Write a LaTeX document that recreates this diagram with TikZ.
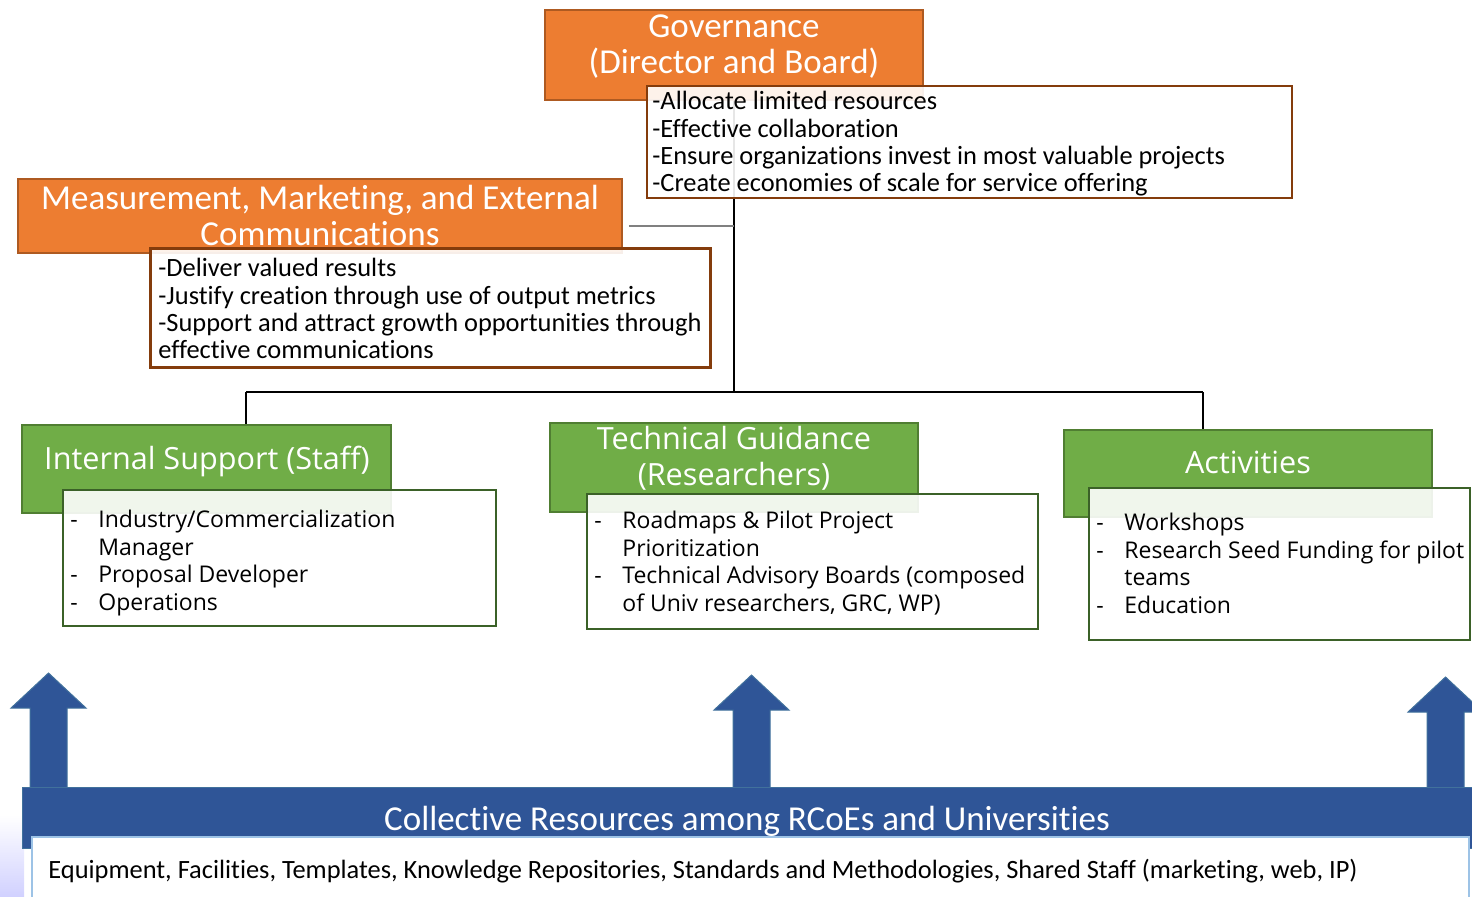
\documentclass[tikz,border=0pt]{standalone}
\usepackage{fontspec}
\setmainfont{Carlito}[Ligatures=NoCommon]
\newfontfamily\segoe{Open Sans}
\definecolor{orangefill}{HTML}{ED7D31}
\definecolor{orangeline}{HTML}{AE5A21}
\definecolor{brownline}{HTML}{843C0C}
\definecolor{greenfill}{HTML}{70AD47}
\definecolor{greenline}{HTML}{507E32}
\definecolor{darkgreen}{HTML}{3B6128}
\definecolor{bandblue}{HTML}{2F5597}
\definecolor{bandline}{HTML}{41719C}
\definecolor{paleblue}{HTML}{9DC3E6}
\newcommand{\itemdash}{\makebox[14pt][l]{-}}
\newcommand{\itemgap}{\hspace*{14pt}}
\begin{document}
\begin{tikzpicture}[x=0.5pt,y=-0.5pt,
  orangebox/.style={draw=orangeline,fill=orangefill,line width=0.75pt,inner sep=0pt},
  greenbox/.style={draw=greenline,fill=greenfill,line width=0.75pt,inner sep=0pt},
  listbox/.style={fill=white,fill opacity=0.9,line width=0.75pt,inner sep=0pt},
  titletext/.style={text=white,inner sep=0pt,align=center},
  listtext/.style={anchor=north west,inner sep=0pt,align=left}]
  \useasboundingbox (0,0) rectangle (1472,896);
  \shade[top color=white,bottom color=blue!18!white] (0,815) rectangle (24,896);
  \node[orangebox,minimum width=189pt,minimum height=45pt] (gov) at (734,55) {};
  \node[orangebox,minimum width=302pt,minimum height=37pt] (meas) at (320,216) {};
  \node[greenbox,minimum width=184.5pt,minimum height=44pt] (staff) at (206.5,469) {};
  \node[greenbox,minimum width=184pt,minimum height=44.5pt] (tech) at (734,467.5) {};
  \node[greenbox,minimum width=184pt,minimum height=43.5pt] (act) at (1248,473.5) {};
  \coordinate (busL) at (246,392);
  \coordinate (busM) at (734,392);
  \coordinate (busR) at (1203,392);
  \draw[line width=1pt] (gov.south) -- (busM);
  \draw[line width=1pt] (busL) -- (busR);
  \draw[line width=1pt] (busL) -- (busL |- staff.north);
  \draw[line width=1pt] (busR) -- (busR |- act.north);
  \draw[gray,line width=0.6pt] (meas.east |- 0,226) ++(6,0) -- (734,226);
  \node[listbox,draw=brownline,minimum width=322.5pt,minimum height=56pt] (govlist) at (969.5,142) {};
  \node[listbox,draw=brownline,line width=1.5pt,minimum width=280pt,minimum height=59.5pt] (measlist) at (430,307.5) {};
  \node[listbox,draw=darkgreen,minimum width=216.5pt,minimum height=68pt] (stafflist) at (279.5,558) {};
  \node[listbox,draw=darkgreen,minimum width=225.5pt,minimum height=67.5pt] (techlist) at (812.5,561.5) {};
  \node[listbox,draw=darkgreen,minimum width=190.5pt,minimum height=76pt] (actlist) at (1279.5,564) {};
  \node[titletext,font=\fontsize{17.5}{18}\selectfont] (govtitle) at (734,47) {Governance\\(Director and Board)};
  \node[titletext,font=\fontsize{17.5}{18}\selectfont] (meastitle) at (320,215) {Measurement, Marketing, and External\\Communications};
  \node[titletext,font=\segoe\fontsize{15.3}{18}\selectfont] (stafftitle) at (207,461) {Internal Support (Staff)};
  \node[titletext,font=\segoe\fontsize{15.3}{18}\selectfont] (techtitle) at (734,458) {Technical Guidance\\(Researchers)};
  \node[titletext,font=\segoe\fontsize{15.3}{18}\selectfont] (acttitle) at (1248,462) {Activities};
  \node[listtext,font=\fontsize{13.2}{13.7}\selectfont] (govitems) at (652,91)
    {-Allocate limited resources\\-Effective collaboration\\-Ensure organizations invest in most valuable projects\\-Create economies of scale for service offering};
  \node[listtext,font=\fontsize{13.2}{13.7}\selectfont] (measitems) at (158,258)
    {-Deliver valued results\\-Justify creation through use of output metrics\\-Support and attract growth opportunities through\\effective communications};
  \node[listtext,font=\segoe\fontsize{11.5}{13.75}\selectfont] (staffitems) at (70,510)
    {\itemdash Industry/Commercialization\\\itemgap Manager\\\itemdash Proposal Developer\\\itemdash Operations};
  \node[listtext,font=\segoe\fontsize{11.5}{13.75}\selectfont] (techitems) at (594,511)
    {\itemdash Roadmaps \& Pilot Project\\\itemgap Prioritization\\\itemdash Technical Advisory Boards (composed\\\itemgap of Univ researchers, GRC, WP)};
  \node[listtext,font=\segoe\fontsize{11.5}{13.75}\selectfont] (actitems) at (1096,513)
    {\itemdash Workshops\\\itemdash Research Seed Funding for pilot\\\itemgap teams\\\itemdash Education};
  \foreach \ax/\ay in {48.5/673,751.5/675,1445.5/677}
    \filldraw[fill=bandblue,draw=bandline,line width=0.5pt] (\ax,\ay) -- (\ax+37.5,\ay+35) -- (\ax+18.5,\ay+35)
      -- (\ax+18.5,790) -- (\ax-18.5,790) -- (\ax-18.5,\ay+35) -- (\ax-37.5,\ay+35) -- cycle;
  \node[fill=bandblue,draw=bandline,line width=0.5pt,inner sep=0pt,minimum width=729pt,minimum height=30.5pt] (band) at (751,817.5) {};
  \node[fill=white,draw=paleblue,line width=0.75pt,inner sep=0pt,minimum width=718.5pt,minimum height=31.5pt] (shared) at (750.5,868.5) {};
  \node[titletext,font=\fontsize{17.5}{18}\selectfont] (bandtitle) at (747,821) {Collective Resources among RCoEs and Universities};
  \node[anchor=west,inner sep=0pt,font=\fontsize{13.2}{13}\selectfont] (sharedtext) at (48,871)
    {Equipment, Facilities, Templates, Knowledge Repositories, Standards and Methodologies, Shared Staff (marketing, web, IP)};
\end{tikzpicture}
\end{document}
